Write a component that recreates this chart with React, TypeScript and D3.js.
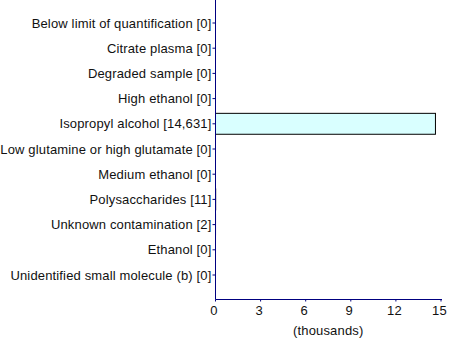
import React from "react";
import * as d3 from "d3";

const categories = [
  "Below limit of quantification [0]",
  "Citrate plasma [0]",
  "Degraded sample [0]",
  "High ethanol [0]",
  "Isopropyl alcohol [14,631]",
  "Low glutamine or high glutamate [0]",
  "Medium ethanol [0]",
  "Polysaccharides [11]",
  "Unknown contamination [2]",
  "Ethanol [0]",
  "Unidentified small molecule (b) [0]",
];
const values = [0, 0, 0, 0, 14631, 0, 0, 11, 2, 0, 0];
const xTicks = [0, 3000, 6000, 9000, 12000, 15000];
const xTickLabels = ["0", "3", "6", "9", "12", "15"];
const xAxisTitle = "(thousands)";

const W = 450;
const H = 342;
const axisColor = "#000080";
const font = "'Liberation Sans', Arial, sans-serif";
const fs = 13;
const ls = 0.15;

export default function App() {
  const x = d3.scaleLinear().domain([0, 15000]).range([215.5, 441]);
  const y = d3
    .scaleBand<string>()
    .domain(categories)
    .range([10.4, 287.6])
    .paddingInner(0.17)
    .paddingOuter(0.085);
  const axisY = 299.5;
  const axisX = 215.5;
  return (
    <svg
      width={W}
      height={H}
      style={{ position: "absolute", left: 0, top: 0, background: "#fff" }}
      fontFamily={font}
    >
      {categories.map((c, i) => {
        const cy = (y(c) as number) + y.bandwidth() / 2;
        return (
          <g key={c}>
            {values[i] > 0 && (
              <rect
                x={x(0)}
                y={y(c)}
                width={x(values[i]) - x(0)}
                height={y.bandwidth()}
                fill="#d9ffff"
                stroke="#000"
                strokeWidth={1}
              />
            )}
            <line x1={axisX - 3} x2={axisX} y1={cy} y2={cy} stroke={axisColor} />
            <text
              x={axisX - 4}
              y={cy}
              dy="0.35em"
              textAnchor="end"
              fontSize={fs}
              letterSpacing={ls}
              fill="#111"
            >
              {c}
            </text>
          </g>
        );
      })}
      <line x1={axisX} x2={axisX} y1={0} y2={axisY} stroke={axisColor} />
      <line x1={axisX} x2={x(15000) + 1} y1={axisY} y2={axisY} stroke={axisColor} />
      {xTicks.map((t, i) => (
        <g key={t}>
          <line x1={x(t)} x2={x(t)} y1={axisY} y2={axisY + 2} stroke={axisColor} />
          <text
            x={x(t) - 1.5}
            y={axisY + 10.5}
            dy="0.35em"
            textAnchor="middle"
            fontSize={fs}
            letterSpacing={ls}
            fill="#111"
          >
            {xTickLabels[i]}
          </text>
        </g>
      ))}
      <text
        x={(x(0) + x(15000)) / 2}
        y={330.5}
        dy="0.35em"
        textAnchor="middle"
        fontSize={fs}
        letterSpacing={ls}
        fill="#111"
      >
        {xAxisTitle}
      </text>
    </svg>
  );
}
